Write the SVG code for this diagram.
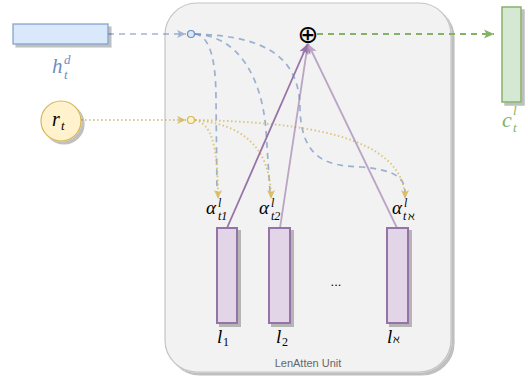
<svg xmlns="http://www.w3.org/2000/svg" width="528" height="381" viewBox="0 0 528 381">
<style>
.m{font-family:"Liberation Serif","DejaVu Serif",serif;font-style:italic;fill:#000}
.s{font-family:"Liberation Serif","DejaVu Serif",serif;fill:#000}
.blue{fill:none;stroke:#6c8ebf;stroke-opacity:0.65;stroke-width:1.7;stroke-dasharray:6 5}
.yel{fill:none;stroke:#d6b656;stroke-opacity:0.75;stroke-width:1.9;stroke-dasharray:1.5 2.5}
.pur{fill:none;stroke:#9673a6;stroke-width:1.8}
.lrect{fill:#e1d5e7;stroke:#9673a6;stroke-width:2}
</style>
<defs>
<filter id="sh" x="-20%" y="-20%" width="150%" height="150%"><feDropShadow dx="3" dy="3" stdDeviation="0.6" flood-color="#000" flood-opacity="0.25"/></filter>
<marker id="aB" viewBox="0 0 10 10" refX="10" refY="5" markerUnits="userSpaceOnUse" markerWidth="9" markerHeight="9" orient="auto"><path d="M0,0.5 L10,5 L0,9.5 L2.5,5 Z" fill="#6c8ebf" fill-opacity="0.6"/></marker>
<marker id="aY" viewBox="0 0 10 10" refX="10" refY="5" markerUnits="userSpaceOnUse" markerWidth="9" markerHeight="9" orient="auto"><path d="M0,0.5 L10,5 L0,9.5 L2.5,5 Z" fill="#d6b656" fill-opacity="0.85"/></marker>
<marker id="aG" viewBox="0 0 10 10" refX="10" refY="5" markerUnits="userSpaceOnUse" markerWidth="10" markerHeight="10" orient="auto"><path d="M0,0.5 L10,5 L0,9.5 L2.5,5 Z" fill="#82b366"/></marker>
<marker id="aP" viewBox="0 0 10 10" refX="10" refY="5" markerUnits="userSpaceOnUse" markerWidth="10" markerHeight="10" orient="auto"><path d="M0,0.5 L10,5 L0,9.5 L2.5,5 Z" fill="#9673a6"/></marker>
</defs>

<g id="container">
<rect x="165" y="3" width="286" height="369" rx="32" ry="32" fill="#f2f2f2" stroke="#c4c4c4" stroke-width="1.2" filter="url(#sh)"/>
<text x="308" y="367" text-anchor="middle" font-family="Liberation Sans,Arial,sans-serif" font-size="11" fill="#666">LenAtten Unit</text>
</g>

<g id="connectors">
<path class="blue" d="M108,34 L186,34" marker-end="url(#aB)"/>
<path class="yel" d="M81,120 L186,120" marker-end="url(#aY)"/>
<path class="blue" d="M195,34 C210,36 216,60 216,100 L217,192"/>
<path class="blue" d="M195,34 C240,36 262,80 266,130 L270,192"/>
<path class="blue" d="M195,34 C270,36 300,60 300,110 C302,160 328,166 362,167 C395,170 405,178 405,192"/>
<path class="yel" d="M195,120 C210,124 218,140 218,199" marker-end="url(#aY)"/>
<path class="yel" d="M195,120 C240,124 271,145 271,199" marker-end="url(#aY)"/>
<path class="yel" d="M195,120 C300,122 405,135 405,199" marker-end="url(#aY)"/>
<path class="pur" d="M227,228 L307.5,44" marker-end="url(#aP)"/>
<path class="pur" d="M280,228 L307.8,44" marker-end="url(#aP)" opacity="0.6"/>
<path class="pur" d="M397,228 L308.2,44" marker-end="url(#aP)" opacity="0.6"/>
<path d="M317,34 L494,34" fill="none" stroke="#82b366" stroke-width="2" stroke-dasharray="6 5" marker-end="url(#aG)"/>
</g>

<g id="hub-h"><circle cx="191" cy="34" r="3.5" fill="#dae8fc" stroke="#6c8ebf" stroke-width="1.2"/></g>
<g id="hub-r"><circle cx="191" cy="120" r="3.5" fill="#fff2cc" stroke="#d6b656" stroke-width="1.2"/></g>

<g id="sum"><text x="308" y="42.5" text-anchor="middle" font-family="DejaVu Sans,sans-serif" font-size="25" fill="#000">⊕</text></g>

<g id="h">
<rect x="13" y="24" width="95" height="20" fill="#dae8fc" stroke="#6c8ebf" stroke-opacity="0.7" stroke-width="1.5" filter="url(#sh)"/>
<text class="m" x="52" y="73" font-size="21" style="fill:#6c8ebf">h</text>
<text class="m" x="64" y="64" font-size="13" style="fill:#6c8ebf">d</text>
<text class="m" x="64" y="79" font-size="13" style="fill:#6c8ebf">t</text>
</g>

<g id="r">
<circle cx="61" cy="121" r="20" fill="#fff2cc" stroke="#d6b656" stroke-width="1.2" filter="url(#sh)"/>
<text class="m" x="52" y="126" font-size="20">r</text>
<text class="m" x="61" y="130" font-size="13">t</text>
</g>

<g id="c">
<rect x="502" y="7" width="19" height="95" fill="#d5e8d4" stroke="#82b366" stroke-width="1.5" filter="url(#sh)"/>
<text class="m" x="502" y="127" font-size="22" style="fill:#82b366">c</text>
<text class="m" x="513" y="115" font-size="13" style="fill:#82b366">l</text>
<text class="m" x="513" y="132" font-size="13" style="fill:#82b366">t</text>
</g>

<g id="l1">
<rect class="lrect" x="217" y="228" width="20" height="95" filter="url(#sh)"/>
<text class="m" x="217" y="343" font-size="19">l</text>
<text class="s" x="223" y="346" font-size="12">1</text>
<text class="m" x="206" y="214" font-size="19">α</text>
<text class="m" x="218" y="207" font-size="12">l</text>
<text class="m" x="218" y="220" font-size="12">t1</text>
</g>

<g id="l2">
<rect class="lrect" x="269" y="228" width="21" height="95" filter="url(#sh)"/>
<text class="m" x="276" y="343" font-size="19">l</text>
<text class="s" x="282" y="346" font-size="12">2</text>
<text class="m" x="259" y="214" font-size="19">α</text>
<text class="m" x="271" y="207" font-size="12">l</text>
<text class="m" x="271" y="220" font-size="12">t2</text>
</g>

<g id="dots"><text x="336" y="286" text-anchor="middle" font-family="Liberation Sans,Arial,sans-serif" font-size="13" fill="#000">...</text></g>

<g id="lN">
<rect class="lrect" x="387" y="228" width="21" height="95" filter="url(#sh)"/>
<text class="m" x="387" y="343" font-size="19">l</text>
<text class="s" x="393" y="343" font-size="11">ℵ</text>
<text class="m" x="392" y="214" font-size="19">α</text>
<text class="m" x="404" y="207" font-size="12">l</text>
<text class="m" x="403" y="220" font-size="12">t</text>
<text class="s" x="408" y="220" font-size="11">ℵ</text>
</g>
</svg>
